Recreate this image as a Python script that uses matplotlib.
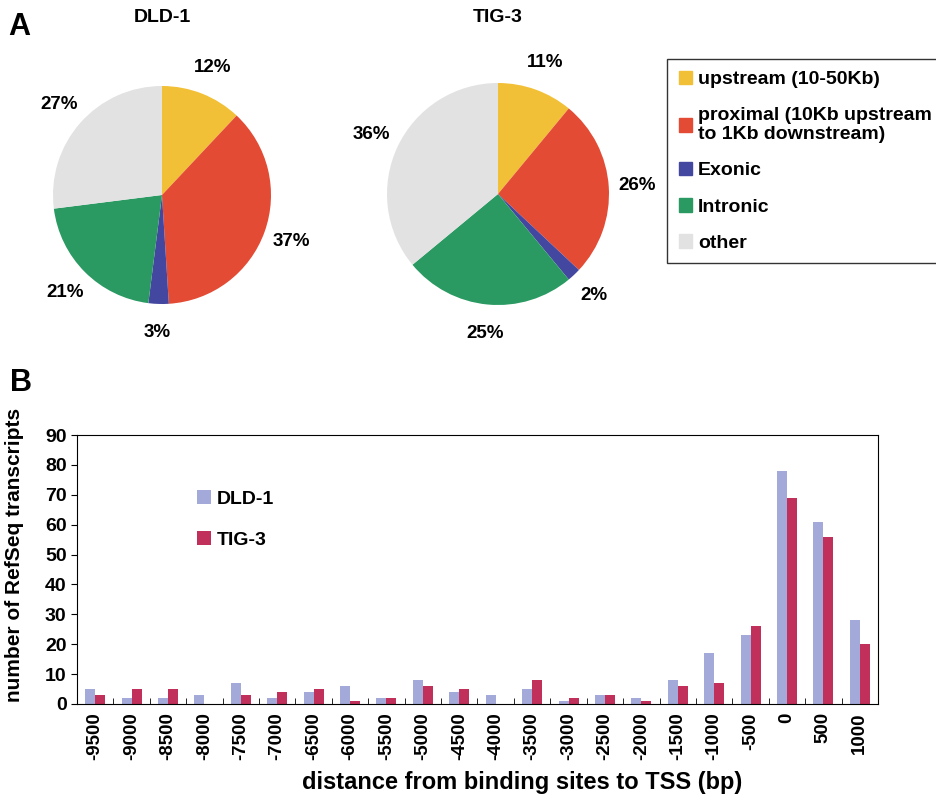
import matplotlib.pyplot as plt
import matplotlib.patches as mpatches
import numpy as np

plt.rcParams['font.family'] = ['Liberation Sans', 'DejaVu Sans']
plt.rcParams['font.weight'] = 'bold'

# Panel A: location categories
kategorien = ["upstream (10-50Kb)", "proximal (10Kb upstream\nto 1Kb downstream)",
              "Exonic", "Intronic", "other"]
farben = ["#f2c037", "#e34b34", "#4447a0", "#2a9a62", "#e2e2e2"]
dld1_anteil = [12, 37, 3, 21, 27]
tig3_anteil = [11, 26, 2, 25, 36]

# Panel B: distance distribution
abstand = [-9500, -9000, -8500, -8000, -7500, -7000, -6500, -6000, -5500, -5000,
           -4500, -4000, -3500, -3000, -2500, -2000, -1500, -1000, -500, 0, 500, 1000]
dld1_anzahl = [5, 2, 2, 3, 7, 2, 4, 6, 2, 8, 4, 3, 5, 1, 3, 2, 8, 17, 23, 78, 61, 28]
tig3_anzahl = [3, 5, 5, 0, 3, 4, 5, 1, 2, 6, 5, 0, 8, 2, 3, 1, 6, 7, 26, 69, 56, 20]

W, H = 937, 800
fig = plt.figure(figsize=(W / 100, H / 100), dpi=100)


def pie_achse(cx, cy, r):
    s = 2.8 * r
    return fig.add_axes([(cx - s / 2) / W, 1 - (cy + s / 2) / H, s / W, s / H])


for (cx, cy, r), werte, name in [((162, 195, 109), dld1_anteil, "DLD-1"),
                                  ((498, 194, 111), tig3_anteil, "TIG-3")]:
    ax = pie_achse(cx, cy, r)
    ax.pie(werte, colors=farben, startangle=90, counterclock=False,
           autopct='%d%%', pctdistance=1.26,
           textprops={'fontsize': 13.5, 'fontweight': 'bold'})
    ax.set_xlim(-1.4, 1.4)
    ax.set_ylim(-1.4, 1.4)
    ax.set_aspect('equal')
    ax.axis('off')
    fig.text(cx / W, 1 - 18 / H, name, ha='center', va='center',
             fontsize=14, fontweight='bold')

handles = [mpatches.Patch(color=c) for c in farben]
leg = fig.legend(handles, kategorien, loc='upper left',
                 bbox_to_anchor=(667 / W, 1 - 59 / H), fontsize=14,
                 frameon=True, fancybox=False, edgecolor='black',
                 handlelength=0.7, handleheight=0.7, handletextpad=0.3,
                 labelspacing=0.95, borderpad=0.6, borderaxespad=0)
leg.get_frame().set_linewidth(1.0)

fig.text(8 / W, 1 - 27 / H, "A", fontsize=22, fontweight='bold', va='center')
fig.text(10 / W, 1 - 383 / H, "B", fontsize=22, fontweight='bold', va='center')

# bar chart
ax = fig.add_axes([77 / W, 96 / H, 801 / W, 269 / H])
x = np.arange(len(abstand))
b = 0.275
ax.bar(x - b / 2, dld1_anzahl, width=b, color="#a3a9d8", label="DLD-1")
ax.bar(x + b / 2, tig3_anzahl, width=b, color="#c0305a", label="TIG-3")
ax.set_xlim(-0.5, len(abstand) - 0.5)
ax.set_ylim(0, 90)
ax.set_yticks(range(0, 91, 10))
ax.set_xticks(x)
ax.set_xticklabels([str(a) for a in abstand], rotation=90, fontsize=13.5,
                   fontweight='bold')
ax.set_xticks(x[:-1] + 0.5, minor=True)
ax.tick_params(axis='x', which='major', length=0, pad=6)
ax.tick_params(axis='x', which='minor', direction='in', length=4)
ax.tick_params(axis='y', labelsize=14, length=4)
for t in ax.get_yticklabels():
    t.set_fontweight('bold')
ax.set_ylabel("number of RefSeq transcripts", fontsize=15, fontweight='bold')
ax.yaxis.set_label_coords(-0.066, 0.554)
fig.text(522 / W, 1 - 783 / H, "distance from binding sites to TSS (bp)",
         ha='center', va='center', fontsize=17, fontweight='bold')
ax.legend(loc='upper left', bbox_to_anchor=(0.128, 0.86), frameon=False,
          fontsize=14, handlelength=0.7, handleheight=0.7,
          handletextpad=0.3, labelspacing=1.2)

fig.savefig("out.png", dpi=100)
